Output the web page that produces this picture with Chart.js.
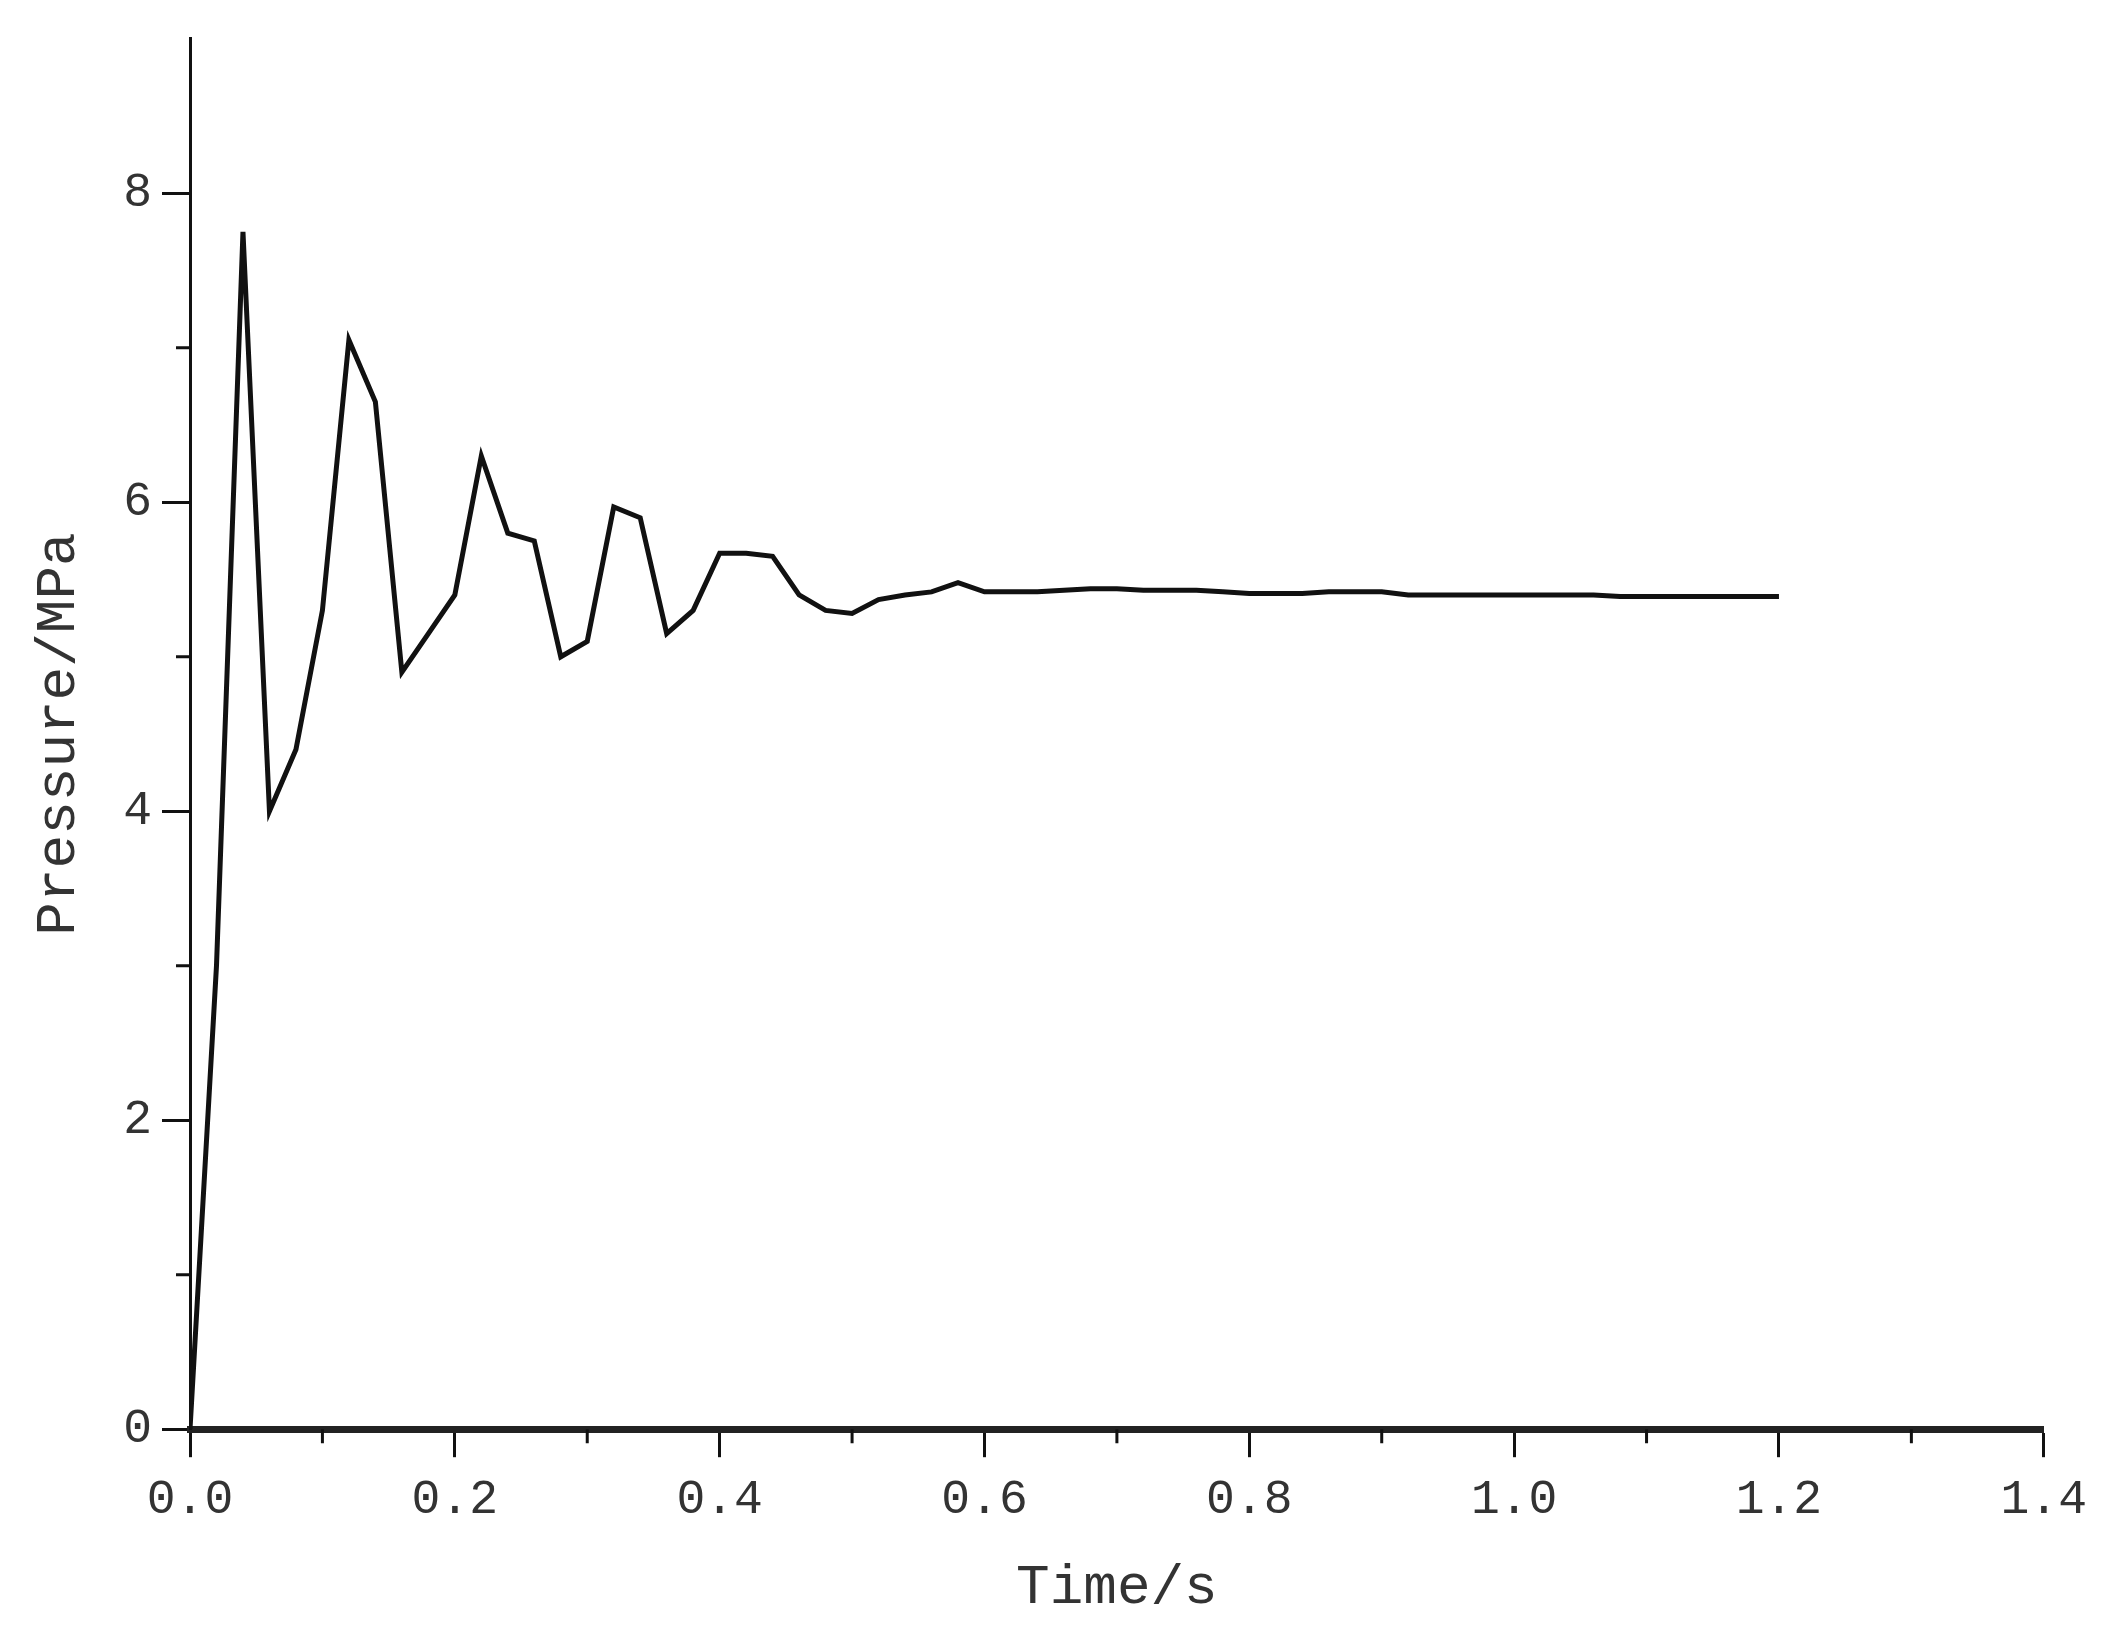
<!DOCTYPE html>
<html>
<head>
<meta charset="utf-8">
<script src="https://cdn.jsdelivr.net/npm/chart.js@4"></script>
<style>
html, body { margin: 0; padding: 0; background: #fff; }
#wrap { width: 2101px; height: 1648px; }
</style>
</head>
<body>
<div id="wrap"><canvas id="pressureChart"></canvas></div>
<script>
const times = [0,0.02,0.04,0.06,0.08,0.10,0.12,0.14,0.16,0.18,0.20,0.22,0.24,0.26,0.28,0.30,
  0.32,0.34,0.36,0.38,0.40,0.42,0.44,0.46,0.48,0.50,0.52,0.54,0.56,0.58,0.60,
  0.62,0.64,0.66,0.68,0.70,0.72,0.74,0.76,0.78,0.80,0.82,0.84,0.86,0.88,0.90,
  0.92,0.94,0.96,0.98,1.00,1.02,1.04,1.06,1.08,1.10,1.12,1.14,1.16,1.18,1.20];
const pressure = [0,3.0,7.75,4.0,4.4,5.3,7.05,6.65,4.9,5.15,5.4,6.3,5.8,5.75,5.0,5.1,
  5.97,5.9,5.15,5.3,5.67,5.67,5.65,5.4,5.3,5.28,5.37,5.4,5.42,5.48,5.42,
  5.42,5.42,5.43,5.44,5.44,5.43,5.43,5.43,5.42,5.41,5.41,5.41,5.42,5.42,5.42,
  5.40,5.40,5.40,5.40,5.40,5.40,5.40,5.40,5.39,5.39,5.39,5.39,5.39,5.39,5.39];
const xMajor = [0,0.2,0.4,0.6,0.8,1.0,1.2,1.4];
const xMinor = [0.1,0.3,0.5,0.7,0.9,1.1,1.3];
const yMajor = [0,2,4,6,8];
const yMinor = [1,3,5,7];

const tickFont = { family: "'Liberation Mono', 'DejaVu Sans Mono', monospace", size: 48 };
const titleFont = { family: "'Liberation Mono', 'DejaVu Sans Mono', monospace", size: 56 };

const minorTicks = {
    id: 'minorTicks',
    afterDraw(chart) {
        const ctx = chart.ctx;
        const xs = chart.scales.x, ys = chart.scales.y;
        ctx.save();
        ctx.strokeStyle = '#111';
        ctx.lineWidth = 3;
        ctx.beginPath();
        xMinor.forEach(v => {
            const px = xs.getPixelForValue(v);
            ctx.moveTo(px, ys.bottom); ctx.lineTo(px, ys.bottom + 14);
        });
        yMinor.forEach(v => {
            const py = ys.getPixelForValue(v);
            ctx.moveTo(xs.left, py); ctx.lineTo(xs.left - 14, py);
        });
        ctx.stroke();
        ctx.restore();
    }
};

new Chart(document.getElementById('pressureChart'), {
    type: 'line',
    data: {
        datasets: [{
            data: times.map((t, i) => ({ x: t, y: pressure[i] })),
            borderColor: '#111',
            borderWidth: 5,
            pointRadius: 0,
            tension: 0
        }]
    },
    options: {
        responsive: true,
        maintainAspectRatio: false,
        animation: false,
        layout: { padding: { top: 28, right: 50, left: 22, bottom: 22 } },
        plugins: { legend: { display: false }, tooltip: { enabled: false } },
        scales: {
            x: {
                type: 'linear', min: 0, max: 1.4,
                afterBuildTicks: s => { s.ticks = xMajor.map(v => ({ value: v })); },
                ticks: { font: tickFont, color: '#333', padding: 14, maxRotation: 0,
                    callback: v => v.toFixed(1) },
                grid: { drawOnChartArea: false, drawTicks: true, tickLength: 28, tickWidth: 3, tickColor: '#111' },
                border: { display: true, color: '#222', width: 7 },
                title: { display: true, text: 'Time/s', font: titleFont, color: '#333', padding: { top: 12 } }
            },
            y: {
                type: 'linear', min: 0, max: 9,
                afterBuildTicks: s => { s.ticks = yMajor.map(v => ({ value: v })); },
                ticks: { font: tickFont, color: '#333', padding: 10 },
                grid: { drawOnChartArea: false, drawTicks: true, tickLength: 28, tickWidth: 3, tickColor: '#111' },
                border: { display: true, color: '#111', width: 3 },
                title: { display: true, text: 'Pressure/MPa', font: titleFont, color: '#333', padding: { bottom: 20 } }
            }
        }
    },
    plugins: [minorTicks]
});
</script>
</body>
</html>
